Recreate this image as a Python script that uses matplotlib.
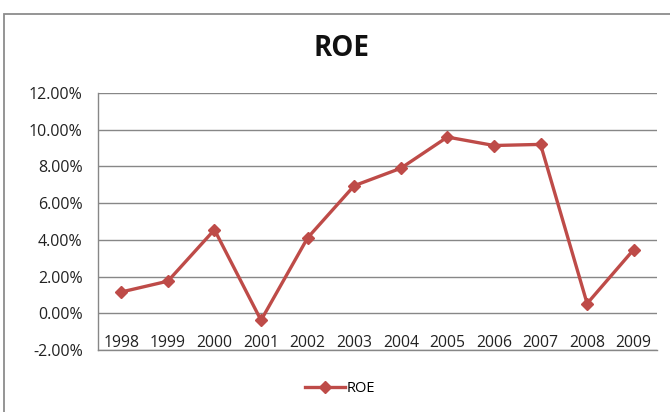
import matplotlib.pyplot as plt
from matplotlib.patches import Rectangle
from matplotlib.lines import Line2D
from matplotlib.ticker import FuncFormatter

# ROE by year, in percent
years = ['1998', '1999', '2000', '2001', '2002', '2003',
         '2004', '2005', '2006', '2007', '2008', '2009']
roe = [1.16, 1.75, 4.55, -0.38, 4.11, 6.95, 7.90, 9.60, 9.14, 9.20, 0.53, 3.47]
y_ticks = [-2, 0, 2, 4, 6, 8, 10, 12]

red = '#BE4B48'
grid_grey = '#878787'
font = 'Open Sans'

fig = plt.figure(figsize=(6.7, 4.12), dpi=100)
fig.patch.set_facecolor('white')

# chart frame
fig.patches.append(Rectangle((4 / 670, -0.05), 1.1, 1 - 14 / 412 + 0.05,
                             transform=fig.transFigure, fill=False,
                             edgecolor='#8c8c8c', linewidth=1.3))

ax = fig.add_axes([98 / 670, 1 - 350 / 412, 559 / 670, 257 / 412])
x = list(range(len(years)))
ax.plot(x, roe, color=red, linewidth=2.4, marker='D', markersize=6.5,
        markerfacecolor=red, markeredgecolor=red)

ax.set_xlim(-0.5, len(years) - 0.5)
ax.set_ylim(-2, 12)
ax.set_yticks(y_ticks)
ax.yaxis.set_major_formatter(FuncFormatter(lambda v, p: '%.2f%%' % v))
ax.grid(axis='y', color=grid_grey, linewidth=1)
ax.set_axisbelow(True)

for side in ['top', 'right']:
    ax.spines[side].set_visible(False)
for side in ['left', 'bottom']:
    ax.spines[side].set_color(grid_grey)
    ax.spines[side].set_linewidth(1)

ax.tick_params(axis='y', length=0, pad=11, labelsize=11.5, labelcolor='#222222')
for lab in ax.get_yticklabels():
    lab.set_fontfamily(font)
ax.set_xticks([])

# year labels sit just above the bottom axis line
for i, yr in enumerate(years):
    ax.annotate(yr, xy=(i, -2), xytext=(0, 3), textcoords='offset pixels',
                ha='center', va='baseline', fontsize=11.3, family=font,
                color='#222222')

fig.text(341 / 670, 1 - 49 / 412, 'ROE', ha='center', va='center',
         fontsize=20, fontweight='bold', family=font, color='#111111')

handle = Line2D([], [], color=red, linewidth=2.4, marker='D', markersize=6.5)
fig.legend([handle], ['ROE'], loc='center', bbox_to_anchor=(340 / 670, 1 - 389 / 412),
           frameon=False, prop={'family': font, 'size': 10.5}, handlelength=2.8,
           handletextpad=0.1)

fig.savefig('out.png', dpi=100)
